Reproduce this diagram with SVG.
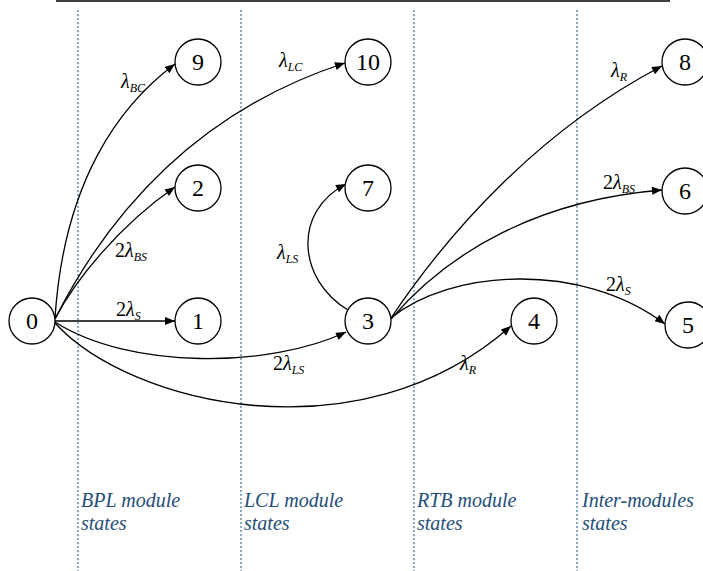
<svg xmlns="http://www.w3.org/2000/svg" width="703" height="571" viewBox="0 0 703 571" font-family="Liberation Serif, Times New Roman, serif">
  <style>
    .node circle { fill: #fff; stroke: #000; stroke-width: 1.3; }
    .node text { font-size: 24px; text-anchor: middle; fill: #000; }
    .edge { fill: none; stroke: #000; stroke-width: 1.3; marker-end: url(#arrow); }
    .lbl { font-size: 20px; fill: #000; }
    .lbl .g { font-style: italic; }
    .lbl .sub { font-style: italic; font-size: 12px; }
    .sep { stroke: #3e72a8; stroke-width: 1.2; stroke-dasharray: 2 2; }
    .zone { font-style: italic; font-size: 20px; fill: #1f4e79; }
  </style>
  <defs>
    <marker id="arrow" viewBox="0 0 10 8" refX="10" refY="4" markerWidth="11" markerHeight="8" markerUnits="userSpaceOnUse" orient="auto">
      <path d="M0,0 L10,4 L0,8 z" fill="#000"/>
    </marker>
  </defs>

  <rect width="703" height="571" fill="#fff"/>

  <!-- top rule -->
  <line x1="56" y1="1" x2="670" y2="1" stroke="#000" stroke-width="1.6"/>

  <!-- module separators -->
  <g id="separators">
    <line class="sep" x1="78" y1="10" x2="78" y2="571"/>
    <line class="sep" x1="241" y1="10" x2="241" y2="571"/>
    <line class="sep" x1="414" y1="10" x2="414" y2="571"/>
    <line class="sep" x1="577" y1="10" x2="577" y2="571"/>
  </g>

  <!-- transitions -->
  <g id="connectors">
    <path class="edge" d="M55,318 C64,180 120,105 175,64"/>
    <path class="edge" d="M55,319 C110,210 200,110 345,63"/>
    <path class="edge" d="M55,319 C75,280 120,225 175,187"/>
    <path class="edge" d="M55,321 H175"/>
    <path class="edge" d="M55,322 C130,370 270,368 346,332"/>
    <path class="edge" d="M55,323 C130,405 360,460 511,326"/>
    <path class="edge" d="M348,310 C298,280 292,212 346,184"/>
    <path class="edge" d="M391,318 C450,230 540,130 662,66"/>
    <path class="edge" d="M391,319 C450,250 540,200 662,190"/>
    <path class="edge" d="M391,318 C450,270 580,260 665,324"/>
  </g>

  <!-- rate labels -->
  <g id="labels">
    <text class="lbl" x="121" y="88"><tspan class="g">λ</tspan><tspan class="sub" dy="4">BC</tspan></text>
    <text class="lbl" x="279" y="67"><tspan class="g">λ</tspan><tspan class="sub" dy="4">LC</tspan></text>
    <text class="lbl" x="115" y="257">2<tspan class="g">λ</tspan><tspan class="sub" dy="4">BS</tspan></text>
    <text class="lbl" x="116" y="316">2<tspan class="g">λ</tspan><tspan class="sub" dy="4">S</tspan></text>
    <text class="lbl" x="277" y="259"><tspan class="g">λ</tspan><tspan class="sub" dy="4">LS</tspan></text>
    <text class="lbl" x="273" y="370">2<tspan class="g">λ</tspan><tspan class="sub" dy="4">LS</tspan></text>
    <text class="lbl" x="460" y="370"><tspan class="g">λ</tspan><tspan class="sub" dy="4">R</tspan></text>
    <text class="lbl" x="611" y="77"><tspan class="g">λ</tspan><tspan class="sub" dy="4">R</tspan></text>
    <text class="lbl" x="603" y="189">2<tspan class="g">λ</tspan><tspan class="sub" dy="4">BS</tspan></text>
    <text class="lbl" x="606" y="291">2<tspan class="g">λ</tspan><tspan class="sub" dy="4">S</tspan></text>
  </g>

  <!-- states -->
  <g id="states">
    <g id="node-0" class="node"><circle cx="32" cy="321" r="23"/><text x="32" y="329">0</text></g>
    <g id="node-1" class="node"><circle cx="198" cy="321" r="23"/><text x="198" y="329">1</text></g>
    <g id="node-2" class="node"><circle cx="198" cy="188" r="23"/><text x="198" y="196">2</text></g>
    <g id="node-9" class="node"><circle cx="198" cy="62" r="23"/><text x="198" y="70">9</text></g>
    <g id="node-10" class="node"><circle cx="368" cy="62" r="23"/><text x="368" y="70">10</text></g>
    <g id="node-7" class="node"><circle cx="368" cy="188" r="23"/><text x="368" y="196">7</text></g>
    <g id="node-3" class="node"><circle cx="368" cy="321" r="23"/><text x="368" y="329">3</text></g>
    <g id="node-4" class="node"><circle cx="534" cy="321" r="23"/><text x="534" y="329">4</text></g>
    <g id="node-8" class="node"><circle cx="685" cy="62" r="23"/><text x="685" y="70">8</text></g>
    <g id="node-6" class="node"><circle cx="685" cy="191" r="23"/><text x="685" y="199">6</text></g>
    <g id="node-5" class="node"><circle cx="688" cy="325" r="23"/><text x="688" y="333">5</text></g>
  </g>

  <!-- module captions -->
  <g id="captions">
    <text class="zone" x="81" y="507">BPL module</text>
    <text class="zone" x="81" y="530">states</text>
    <text class="zone" x="244" y="507">LCL module</text>
    <text class="zone" x="244" y="530">states</text>
    <text class="zone" x="417" y="507">RTB module</text>
    <text class="zone" x="417" y="530">states</text>
    <text class="zone" x="582" y="507">Inter-modules</text>
    <text class="zone" x="582" y="530">states</text>
  </g>
</svg>
